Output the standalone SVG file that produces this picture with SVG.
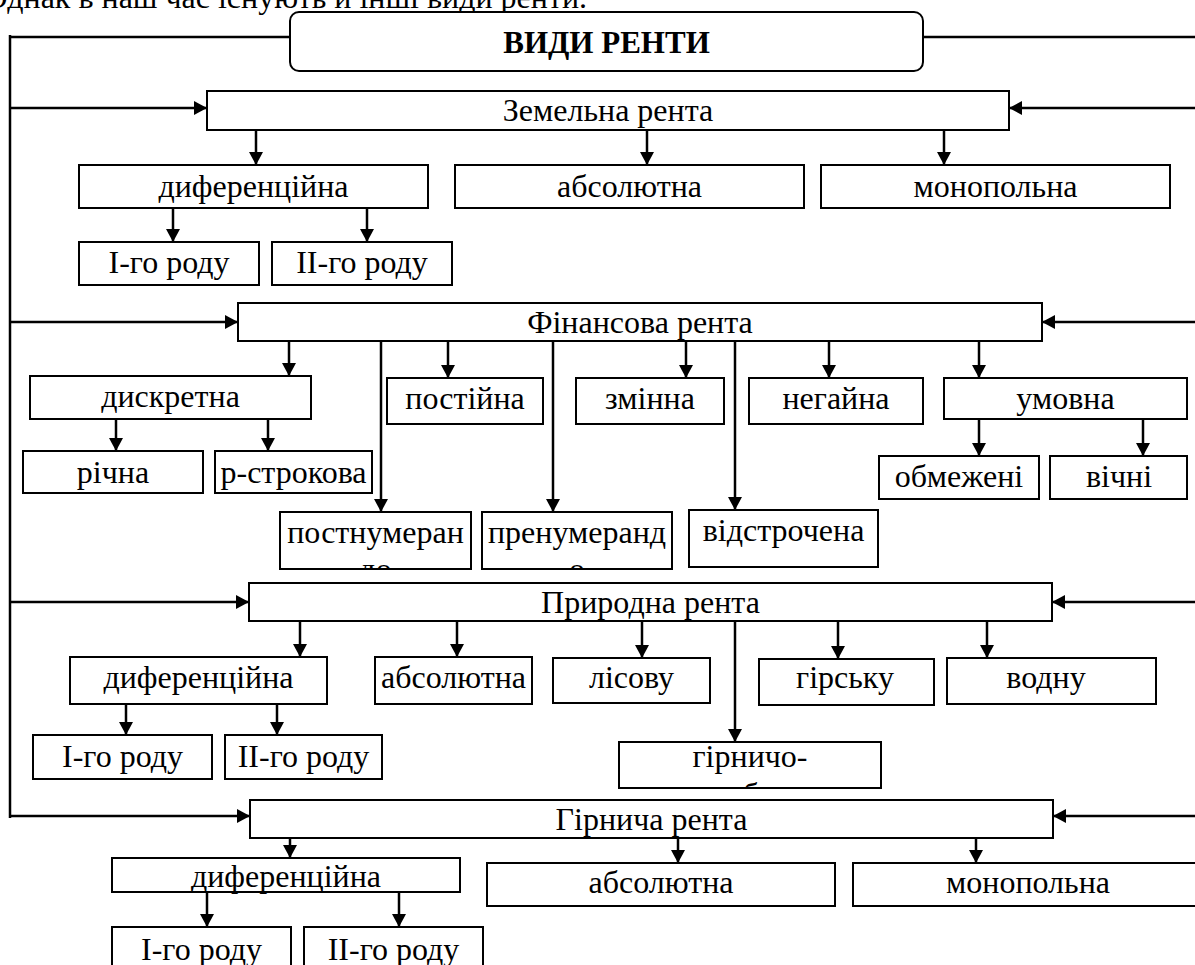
<svg xmlns="http://www.w3.org/2000/svg" width="1195" height="965" viewBox="0 0 1195 965">
<style>
.box{fill:#fff;stroke:#000;stroke-width:2}
.t{font-family:"Liberation Serif","Times New Roman",serif;font-size:32px;text-anchor:middle;fill:#000}
.tb{font-weight:bold;font-size:31px}
.c{stroke:#000;stroke-width:2.5;fill:none}
.a{marker-end:url(#ah)}
</style>
<defs>
<marker id="ah" markerUnits="userSpaceOnUse" markerWidth="14" markerHeight="14" refX="13" refY="7" orient="auto"><path d="M0,0 L13,7 L0,14 Z" fill="#000"/></marker>
<clipPath id="cf2"><rect x="280" y="512" width="191" height="57"/></clipPath>
<clipPath id="cf4"><rect x="482" y="512" width="190" height="57"/></clipPath>
<clipPath id="cp4"><rect x="619" y="742" width="262" height="45"/></clipPath>
</defs>
<rect width="1195" height="965" fill="#fff"/>
<text class="t" x="587" y="8" style="text-anchor:end">Однак в наш час існують й інші види ренти.</text>

<g id="connectors">
<path class="c" d="M10,35 V818 M10,37 H290 M923,37 H1195"/>
<path class="c a" d="M10,108 H207"/>
<path class="c a" d="M1195,108 H1009"/>
<path class="c a" d="M10,322 H238"/>
<path class="c a" d="M1195,322 H1042"/>
<path class="c a" d="M10,602 H249"/>
<path class="c a" d="M1195,602 H1052"/>
<path class="c a" d="M10,816 H250"/>
<path class="c a" d="M1195,816 H1053"/>
<path class="c a" d="M256,130 V165"/>
<path class="c a" d="M647,130 V165"/>
<path class="c a" d="M944,130 V165"/>
<path class="c a" d="M173,208 V242"/>
<path class="c a" d="M367,208 V242"/>
<path class="c a" d="M289,341 V376"/>
<path class="c a" d="M381,341 V512"/>
<path class="c a" d="M448,341 V378"/>
<path class="c a" d="M553,341 V512"/>
<path class="c a" d="M686,341 V378"/>
<path class="c a" d="M735,341 V510"/>
<path class="c a" d="M829,341 V378"/>
<path class="c a" d="M979,341 V378"/>
<path class="c a" d="M116,419 V451"/>
<path class="c a" d="M268,419 V451"/>
<path class="c a" d="M979,419 V456"/>
<path class="c a" d="M1143,419 V456"/>
<path class="c a" d="M300,621 V657"/>
<path class="c a" d="M457,621 V657"/>
<path class="c a" d="M642,621 V658"/>
<path class="c a" d="M735,621 V742"/>
<path class="c a" d="M838,621 V659"/>
<path class="c a" d="M987,621 V658"/>
<path class="c a" d="M126,704 V735"/>
<path class="c a" d="M277,704 V735"/>
<path class="c a" d="M290,838 V858"/>
<path class="c a" d="M678,838 V863"/>
<path class="c a" d="M976,838 V863"/>
<path class="c a" d="M207,892 V927"/>
<path class="c a" d="M399,892 V927"/>
</g>

<g id="title"><rect class="box" x="290" y="12" width="633" height="59" rx="9"/><text class="t tb" x="606.5" y="53">ВИДИ РЕНТИ</text></g>

<g id="zemelna"><rect class="box" x="207" y="91" width="802" height="39"/><text class="t" x="608" y="121">Земельна рента</text></g>
<g id="z-dyf"><rect class="box" x="79" y="165" width="349" height="43"/><text class="t" x="253.5" y="197">диференційна</text></g>
<g id="z-dyf1"><rect class="box" x="79" y="242" width="180" height="43"/><text class="t" x="169" y="273">І-го роду</text></g>
<g id="z-dyf2"><rect class="box" x="272" y="242" width="180" height="43"/><text class="t" x="362" y="273">ІІ-го роду</text></g>
<g id="z-abs"><rect class="box" x="455" y="165" width="349" height="43"/><text class="t" x="629.5" y="197">абсолютна</text></g>
<g id="z-mon"><rect class="box" x="821" y="165" width="349" height="43"/><text class="t" x="995.5" y="197">монопольна</text></g>

<g id="finansova"><rect class="box" x="238" y="303" width="804" height="38"/><text class="t" x="640" y="333">Фінансова рента</text></g>
<g id="f-dysk"><rect class="box" x="30" y="376" width="281" height="43"/><text class="t" x="170.5" y="407">дискретна</text></g>
<g id="f-richna"><rect class="box" x="23" y="451" width="180" height="42"/><text class="t" x="113" y="483">річна</text></g>
<g id="f-pstr"><rect class="box" x="215" y="451" width="157" height="42"/><text class="t" x="293.5" y="483">р-строкова</text></g>
<g id="f-postnum"><rect class="box" x="280" y="512" width="191" height="57"/><text class="t" x="375.5" y="543">постнумеран</text><text class="t" x="375.5" y="580" clip-path="url(#cf2)">до</text></g>
<g id="f-postiina"><rect class="box" x="387" y="378" width="156" height="46"/><text class="t" x="465" y="409">постійна</text></g>
<g id="f-prenum"><rect class="box" x="482" y="512" width="190" height="57"/><text class="t" x="577" y="543">пренумеранд</text><text class="t" x="577" y="580" clip-path="url(#cf4)">о</text></g>
<g id="f-zminna"><rect class="box" x="576" y="378" width="148" height="46"/><text class="t" x="650" y="409">змінна</text></g>
<g id="f-vidstr"><rect class="box" x="689" y="510" width="189" height="57"/><text class="t" x="783.5" y="541">відстрочена</text></g>
<g id="f-negaina"><rect class="box" x="749" y="378" width="174" height="46"/><text class="t" x="836" y="409">негайна</text></g>
<g id="f-umovna"><rect class="box" x="944" y="378" width="243" height="41"/><text class="t" x="1065.5" y="409">умовна</text></g>
<g id="f-obmezh"><rect class="box" x="879" y="456" width="160" height="43"/><text class="t" x="959" y="487">обмежені</text></g>
<g id="f-vichni"><rect class="box" x="1050" y="456" width="137" height="43"/><text class="t" x="1119" y="487">вічні</text></g>

<g id="pryrodna"><rect class="box" x="249" y="583" width="803" height="38"/><text class="t" x="650.5" y="613">Природна рента</text></g>
<g id="p-dyf"><rect class="box" x="70" y="657" width="257" height="47"/><text class="t" x="198.5" y="688">диференційна</text></g>
<g id="p-dyf1"><rect class="box" x="33" y="735" width="179" height="44"/><text class="t" x="122.5" y="767">І-го роду</text></g>
<g id="p-dyf2"><rect class="box" x="225" y="735" width="157" height="44"/><text class="t" x="303.5" y="767">ІІ-го роду</text></g>
<g id="p-abs"><rect class="box" x="375" y="657" width="157" height="47"/><text class="t" x="453.5" y="688">абсолютна</text></g>
<g id="p-lisovu"><rect class="box" x="553" y="658" width="157" height="45"/><text class="t" x="631.5" y="688">лісову</text></g>
<g id="p-girnycho"><rect class="box" x="619" y="742" width="262" height="46"/><text class="t" x="750" y="767">гірничо-</text><text class="t" x="750" y="805" clip-path="url(#cp4)">видобувну</text></g>
<g id="p-girsku"><rect class="box" x="759" y="659" width="175" height="46"/><text class="t" x="845" y="688">гірську</text></g>
<g id="p-vodnu"><rect class="box" x="947" y="658" width="209" height="46"/><text class="t" x="1046" y="688">водну</text></g>

<g id="girnycha"><rect class="box" x="250" y="800" width="803" height="38"/><text class="t" x="651.5" y="830">Гірнича рента</text></g>
<g id="g-dyf"><rect class="box" x="112" y="858" width="348" height="34"/><text class="t" x="286" y="887">диференційна</text></g>
<g id="g-dyf1"><rect class="box" x="112" y="927" width="179" height="50"/><text class="t" x="201.5" y="960">І-го роду</text></g>
<g id="g-dyf2"><rect class="box" x="304" y="927" width="179" height="50"/><text class="t" x="393.5" y="960">ІІ-го роду</text></g>
<g id="g-abs"><rect class="box" x="487" y="863" width="348" height="43"/><text class="t" x="661" y="893">абсолютна</text></g>
<g id="g-mon"><rect class="box" x="853" y="863" width="352" height="43"/><text class="t" x="1028" y="893">монопольна</text></g>
</svg>
